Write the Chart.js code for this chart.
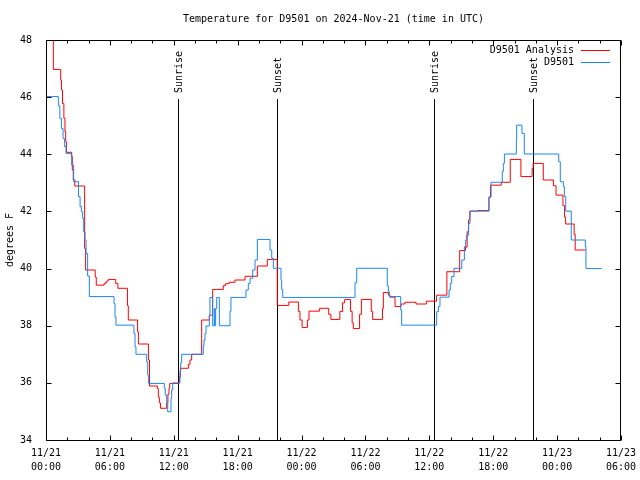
<!DOCTYPE html>
<html><head><meta charset="utf-8">
<script src="https://cdn.jsdelivr.net/npm/chart.js@4"></script>
<style>html,body{margin:0;padding:0;background:#fff}canvas{display:block}</style>
</head><body>
<canvas id="c" width="640" height="480"></canvas>
<script>
const chartTitle = 'Temperature for D9501 on 2024-Nov-21 (time in UTC)';
const yAxisTitle = 'degrees F';
const dayLabels = ['11/21','11/21','11/21','11/21','11/22','11/22','11/22','11/22','11/23','11/23'];
const timeLabels = ['00:00','06:00','12:00','18:00','00:00','06:00','12:00','18:00','00:00','06:00'];
const seriesNames = ['D9501 Analysis', 'D9501'];

// hours since 11/21 00:00 UTC, and degrees F (value held until next time)
const analysisHours = [0,0.69,1.38,1.45,1.55,1.68,1.78,1.85,1.92,2.41,2.47,2.56,2.7,3.63,3.72,4.62,4.72,5.45,5.6,5.72,5.85,6.55,6.75,7.65,7.73,8.6,8.68,9.62,9.72,10.46,10.55,10.65,10.75,11.33,11.45,11.55,11.62,12.52,12.62,13.37,13.52,13.68,14.62,15.34,15.65,16.65,16.85,17.2,17.75,18.69,19.85,20.78,21.72,22.8,23.7,23.85,24.05,24.55,24.7,25.7,26.55,26.75,27.6,27.85,28.05,28.6,28.75,28.86,29.45,29.62,30.55,30.68,31.6,31.68,32.15,32.3,32.78,33.35,33.7,34.75,35.72,36.68,37.65,38.85,39.4,39.55,39.68,39.8,40.5,41.6,41.75,42.75,43.6,44.6,45.65,45.75,46.7,47.65,47.9,48.55,48.7,48.8,49.6,49.7,50.7];
const analysisTemps = [48.0,46.97,46.6,46.25,45.78,45.26,44.79,44.44,44.07,43.92,43.45,43.1,42.89,40.7,39.95,39.7,39.42,39.47,39.52,39.57,39.62,39.48,39.31,38.7,38.2,37.79,37.36,36.8,35.89,35.8,35.5,35.3,35.11,35.3,35.6,35.8,35.98,36.2,36.51,36.65,36.8,37.0,38.2,38.37,39.27,39.4,39.47,39.52,39.6,39.73,40.09,40.32,38.71,38.83,38.5,38.2,37.94,38.2,38.51,38.61,38.4,38.22,38.5,38.8,38.92,38.5,38.1,37.9,38.4,38.92,38.5,38.22,38.6,39.16,39.07,39.0,38.67,38.76,38.82,38.76,38.86,39.07,39.89,40.63,40.75,41.29,41.7,42.01,42.03,42.5,42.92,43.02,43.82,43.22,43.5,43.68,43.1,42.9,42.57,42.2,41.8,41.56,41.2,40.65,40.65];

const stationHours = [0,1.16,1.3,1.45,1.6,1.75,1.88,2.41,2.6,3.05,3.2,3.32,3.44,3.54,3.66,3.76,3.91,4.07,6.39,6.48,6.57,8.26,8.36,8.45,9.45,9.55,9.64,11.11,11.2,11.33,11.43,11.74,11.8,11.9,12.58,12.65,12.74,14.77,14.84,14.93,15.03,15.34,15.4,15.65,15.8,15.85,15.93,16.03,16.28,17.28,17.37,18.78,19.0,19.16,19.41,19.63,19.85,21.04,21.2,21.35,22.07,22.13,22.23,29.02,29.18,32.05,32.15,32.25,33.31,33.4,36.69,36.85,37.0,37.85,37.97,38.1,38.32,39.05,39.29,39.41,39.5,39.69,39.82,41.6,41.8,42.85,42.95,43.05,44.17,44.2,44.7,44.92,48.15,48.3,48.59,48.68,48.81,49.33,50.65,50.71,52.19];
const stationTemps = [46.02,45.7,45.26,44.9,44.55,44.27,44.03,43.62,43.04,42.52,42.17,41.99,41.76,41.29,41.0,40.53,39.74,39.02,38.78,38.31,38.02,37.73,37.26,37.0,36.74,36.27,35.98,35.81,35.57,35.34,34.99,35.46,35.75,36.0,36.39,36.7,37.0,37.3,37.5,37.73,37.99,38.37,38.99,38.0,38.6,38.0,38.6,38.99,38.0,38.5,38.99,39.25,39.48,39.66,39.95,40.3,41.02,40.65,40.36,40.01,39.6,39.27,38.99,39.5,40.01,39.4,39.19,39.02,38.55,38.02,38.49,38.67,39.0,39.25,39.48,39.72,40.01,40.3,40.77,41.0,41.17,41.58,42.01,42.5,43.02,43.39,43.68,44.01,44.5,45.02,44.73,44.01,43.74,43.04,42.87,42.52,42.01,41.0,40.77,40.0,40.0];

const eventNames = ['Sunrise', 'Sunset', 'Sunrise', 'Sunset'];
const eventHours = [12.43, 21.72, 36.47, 45.70];
const eventTop = 45.95;

const FONT = '"DejaVu Sans Mono", "Liberation Mono", monospace';
const RED = '#ff0000';
const BLUE = '#1a86f7';

function toPoints(xs, ys) { return xs.map((h, i) => ({x: h, y: ys[i]})); }

const framePlugin = {
  id: 'frame',
  beforeDatasetsDraw(chart) {
    const {ctx, scales: {x, y}} = chart;
    ctx.save();
    ctx.strokeStyle = '#000';
    ctx.lineWidth = 1;
    const yb = Math.round(y.getPixelForValue(34));
    const yt = Math.round(y.getPixelForValue(eventTop));
    eventHours.forEach(h => {
      const px = Math.round(x.getPixelForValue(h)) + 0.5;
      ctx.beginPath(); ctx.moveTo(px, yt); ctx.lineTo(px, yb); ctx.stroke();
    });
    ctx.fillStyle = '#000';
    ctx.font = '10px ' + FONT;
    ctx.textAlign = 'left';
    ctx.textBaseline = 'middle';
    eventHours.forEach((h, i) => {
      const px = Math.round(x.getPixelForValue(h)) + 1;
      ctx.save();
      ctx.translate(px, yt - 6);
      ctx.rotate(-Math.PI / 2);
      ctx.fillText(eventNames[i], 0, 0);
      ctx.restore();
    });
    ctx.restore();
  },
  afterDatasetsDraw(chart) {
    const {ctx, chartArea: a, scales: {x, y}} = chart;
    ctx.save();
    ctx.strokeStyle = '#000';
    ctx.lineWidth = 1;
    const L = Math.round(a.left) + 0.5, R = Math.round(a.right) - 0.5;
    const T = Math.round(a.top) + 0.5, B = Math.round(a.bottom) + 0.5;
    ctx.strokeRect(L, T, R - L, B - T);
    ctx.beginPath();
    for (let h = 0; h <= 54; h += 2) {
      const len = (h % 6 === 0) ? 5 : 3;
      const px = Math.round(x.getPixelForValue(h)) + 0.5;
      ctx.moveTo(px, B); ctx.lineTo(px, B - len);
      ctx.moveTo(px, T); ctx.lineTo(px, T + len);
    }
    for (let v = 34; v <= 48; v += 2) {
      const py = Math.round(y.getPixelForValue(v)) + 0.5;
      ctx.moveTo(L, py); ctx.lineTo(L + 5, py);
      ctx.moveTo(R, py); ctx.lineTo(R - 5, py);
    }
    ctx.stroke();
    // legend
    ctx.font = '10px ' + FONT;
    ctx.fillStyle = '#000';
    ctx.textAlign = 'right';
    ctx.textBaseline = 'middle';
    const cols = [RED, BLUE];
    seriesNames.forEach((n, i) => {
      const ly = Math.round(a.top) + 10 + i * 12;
      ctx.fillText(n, 574, ly);
      ctx.strokeStyle = cols[i];
      ctx.beginPath(); ctx.moveTo(581, ly + 0.5); ctx.lineTo(610, ly + 0.5); ctx.stroke();
    });
    ctx.restore();
  }
};

new Chart(document.getElementById('c'), {
  type: 'line',
  data: {
    datasets: [
      {label: seriesNames[1], data: toPoints(stationHours, stationTemps), borderColor: BLUE, borderWidth: 1, pointRadius: 0, stepped: 'before', fill: false, order: 0},
      {label: seriesNames[0], data: toPoints(analysisHours, analysisTemps), borderColor: RED, borderWidth: 1, pointRadius: 0, stepped: 'before', fill: false, order: 1}
    ]
  },
  options: {
    responsive: false, animation: false, devicePixelRatio: 1,
    layout: {padding: {left: 0, right: 19, top: 0, bottom: 0}},
    plugins: {
      legend: {display: false},
      tooltip: {enabled: false},
      title: {display: true, text: chartTitle, fullSize: false, color: '#000',
        font: {family: FONT, size: 10, weight: 'normal', lineHeight: 1.2},
        padding: {top: 13, bottom: 15}}
    },
    scales: {
      x: {type: 'linear', min: 0, max: 54,
        grid: {display: false}, border: {display: false},
        ticks: {stepSize: 6, autoSkip: false, maxRotation: 0, minRotation: 0, padding: -2, color: '#000',
          font: {family: FONT, size: 10, lineHeight: 1.4},
          callback: (v) => { const i = Math.round(v / 6); return [dayLabels[i], timeLabels[i]]; }},
        afterFit(s) { s.height = 40; }
      },
      y: {type: 'linear', min: 34, max: 48,
        grid: {display: false}, border: {display: false},
        ticks: {stepSize: 2, padding: 6, color: '#000', font: {family: FONT, size: 10}},
        title: {display: true, text: yAxisTitle, color: '#000', font: {family: FONT, size: 10}, padding: {top: 4, bottom: 0}},
        afterFit(s) { s.width = 46; }
      }
    }
  },
  plugins: [framePlugin]
});
</script>
</body></html>
